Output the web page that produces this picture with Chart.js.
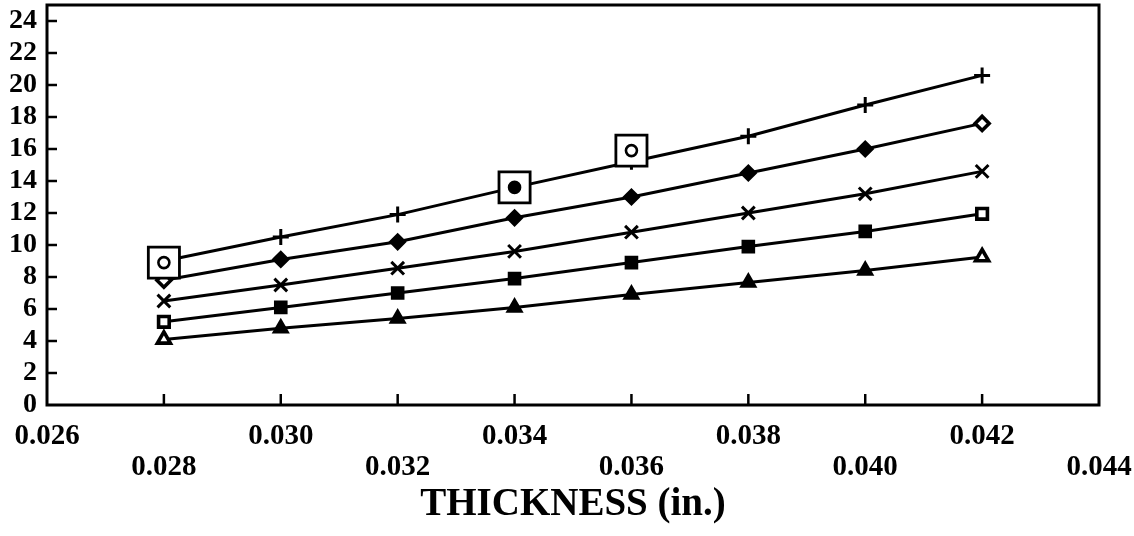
<!DOCTYPE html>
<html>
<head>
<meta charset="utf-8">
<script src="https://cdn.jsdelivr.net/npm/chart.js@4/dist/chart.umd.min.js"></script>
<style>
html,body{margin:0;padding:0;background:#fff;}
#wrap{width:1134px;height:536px;position:relative;}
</style>
</head>
<body>
<div id="wrap"><canvas id="c"></canvas></div>
<script>
// ---- data ----
const thickness = [0.028, 0.030, 0.032, 0.034, 0.036, 0.038, 0.040, 0.042];
const seriesPlus     = [9.0, 10.5, 11.9, 13.6, 15.2, 16.8, 18.75, 20.6];
const seriesDiamond  = [7.8, 9.1, 10.2, 11.7, 13.0, 14.5, 16.0, 17.6];
const seriesCross    = [6.5, 7.5, 8.55, 9.6, 10.8, 12.0, 13.2, 14.6];
const seriesSquare   = [5.2, 6.1, 7.0, 7.9, 8.9, 9.9, 10.85, 11.95];
const seriesTriangle = [4.1, 4.8, 5.4, 6.1, 6.9, 7.65, 8.4, 9.25];
const measuredX = [0.028, 0.034, 0.036];
const measuredY = [8.9, 13.6, 15.9];
const measuredFilled = [false, true, false];
const xTickValues = [0.026, 0.028, 0.030, 0.032, 0.034, 0.036, 0.038, 0.040, 0.042, 0.044];
const yTickValues = [0, 2, 4, 6, 8, 10, 12, 14, 16, 18, 20, 22, 24];
const xTitle = 'THICKNESS (in.)';

// ---- build ----
const pts = (xs, ys) => xs.map((x, i) => ({x: x, y: ys[i]}));
const FONT = '"Liberation Serif", "Times New Roman", serif';
const lastIdx = thickness.length - 1;
const isEnd = ctx => ctx.dataIndex === 0 || ctx.dataIndex === lastIdx;

function lineSeries(data, style, radius) {
  const open = !(style === 'cross' || style === 'crossRot');
  return {
    data: pts(thickness, data),
    borderColor: '#000',
    borderWidth: 3,
    tension: 0,
    fill: false,
    pointStyle: style,
    pointRadius: radius,
    pointBorderColor: '#000',
    pointBorderWidth: ctx => (open && isEnd(ctx)) ? 3.6 : 3,
    pointBackgroundColor: ctx => (open && isEnd(ctx)) ? '#fff' : '#000',
    order: 2
  };
}

const frame = {
  id: 'frame',
  afterDraw(chart) {
    const {ctx, chartArea: a, scales: {x, y}} = chart;
    ctx.save();
    ctx.strokeStyle = '#000';
    ctx.lineWidth = 3;
    ctx.strokeRect(a.left, a.top, a.right - a.left, a.bottom - a.top);
    ctx.lineWidth = 2.5;
    y.ticks.forEach(t => {
      if (t.value <= y.min + 1e-9) return;
      const py = y.getPixelForValue(t.value);
      ctx.beginPath(); ctx.moveTo(a.left, py); ctx.lineTo(a.left + 10, py); ctx.stroke();
    });
    x.ticks.forEach(t => {
      if (t.value <= x.min + 1e-9 || t.value >= x.max - 1e-9) return;
      const px = x.getPixelForValue(t.value);
      ctx.beginPath(); ctx.moveTo(px, a.bottom); ctx.lineTo(px, a.bottom - 11); ctx.stroke();
    });
    ctx.restore();
  }
};

new Chart(document.getElementById('c'), {
  type: 'line',
  data: {
    datasets: [
      {
        data: pts(measuredX, measuredY),
        showLine: false,
        pointStyle: 'circle',
        pointRadius: 5.5,
        pointBorderWidth: 2.6,
        pointBorderColor: '#000',
        pointBackgroundColor: ctx => measuredFilled[ctx.dataIndex] ? '#000' : '#fff',
        order: 0
      },
      {
        data: pts(measuredX, measuredY),
        showLine: false,
        pointStyle: 'rect',
        pointRadius: 22,
        pointBorderWidth: 2.8,
        pointBorderColor: '#000',
        pointBackgroundColor: '#fff',
        order: 1
      },
      lineSeries(seriesPlus, 'cross', 8),
      lineSeries(seriesDiamond, 'rectRot', 7),
      lineSeries(seriesCross, 'crossRot', 9),
      lineSeries(seriesSquare, 'rect', 7.5),
      lineSeries(seriesTriangle, 'triangle', 7.5)
    ]
  },
  options: {
    responsive: true,
    maintainAspectRatio: false,
    animation: false,
    events: [],
    layout: {autoPadding: false, padding: {top: 5, right: 35, left: 0, bottom: 0}},
    plugins: {legend: {display: false}, tooltip: {enabled: false}},
    scales: {
      x: {
        type: 'linear',
        min: 0.026,
        max: 0.044,
        afterBuildTicks: s => { s.ticks = xTickValues.map(v => ({value: v})); },
        afterFit: s => { s.height = 131; s.paddingLeft = 0; s.paddingRight = 0; },
        grid: {display: false, drawTicks: false},
        border: {display: false},
        ticks: {
          autoSkip: false,
          maxRotation: 0,
          padding: 16,
          color: '#000',
          font: {family: FONT, size: 29, weight: 'bold', lineHeight: 1.08},
          callback: (v, i) => {
            const s = Number(v).toFixed(3);
            return i % 2 === 0 ? s : ['', s];
          }
        },
        title: {
          display: true,
          text: xTitle,
          color: '#000',
          font: {family: FONT, size: 39, weight: 'bold', lineHeight: 1.2},
          padding: {top: 0, bottom: 8}
        }
      },
      y: {
        type: 'linear',
        min: 0,
        max: 25,
        afterBuildTicks: s => { s.ticks = yTickValues.map(v => ({value: v})); },
        afterFit: s => { s.width = 47; s.paddingTop = 0; s.paddingBottom = 0; },
        grid: {display: false, drawTicks: false},
        border: {display: false},
        ticks: {
          autoSkip: false,
          padding: 10,
          color: '#000',
          font: {family: FONT, size: 28, weight: 'bold'},
          callback: v => String(v)
        }
      }
    }
  },
  plugins: [frame]
});
</script>
</body>
</html>
